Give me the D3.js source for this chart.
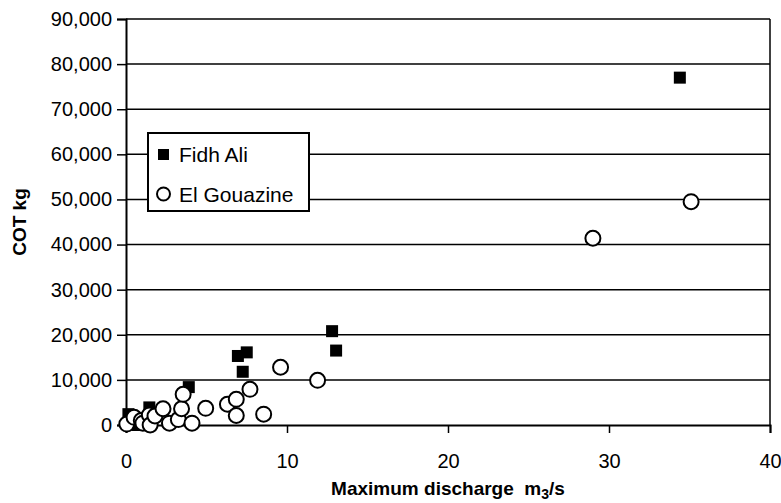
<!DOCTYPE html>
<html>
<head>
<meta charset="utf-8">
<script src="https://cdn.jsdelivr.net/npm/d3@7"></script>
<style>
  body { margin: 0; background: #fff; }
  text { font-family: "Liberation Sans", Arial, sans-serif; }
</style>
</head>
<body>
<script>
// dimensions
const width = 781;
const height = 503;
const margin = { top: 19, right: 11, bottom: 78, left: 126 };

// data : [discharge m3/s, COT kg]
const fidhAli = [
  [0.15, 2400], [0.4, 1200], [0.7, 0], [1.0, 300], [1.45, 3900],
  [3.9, 8400], [6.95, 15300], [7.5, 16100], [7.25, 11800],
  [12.8, 20800], [13.05, 16500], [34.4, 77000]
];
const elGouazine = [
  [0.05, 200], [0.5, 1700], [0.95, 1000], [1.05, 400], [1.45, 2200], [1.5, 0],
  [1.8, 2000], [2.3, 3600], [2.7, 400], [3.25, 1200], [3.45, 3600], [3.55, 6800],
  [4.1, 400], [4.95, 3700], [6.3, 4600], [6.85, 5700], [6.85, 2100], [7.7, 7900],
  [8.55, 2400], [9.6, 12800], [11.9, 9900], [29.0, 41400], [35.1, 49500]
];
const seriesNames = ["Fidh Ali", "El Gouazine"];
const xTicks = [0, 10, 20, 30, 40];
const yTicks = [0, 10000, 20000, 30000, 40000, 50000, 60000, 70000, 80000, 90000];

const svg = d3.select("body").append("svg")
  .attr("width", width)
  .attr("height", height);

const x = d3.scaleLinear().domain([0, 40]).range([margin.left, width - margin.right]);
const y = d3.scaleLinear().domain([0, 90000]).range([height - margin.bottom, margin.top]);

// grid lines
svg.append("g")
  .selectAll("line")
  .data(yTicks.slice(1))
  .join("line")
  .attr("x1", x(0)).attr("x2", x(40))
  .attr("y1", d => y(d)).attr("y2", d => y(d))
  .attr("stroke", "#000")
  .attr("stroke-width", 1.5);

// right border
svg.append("line")
  .attr("x1", x(40)).attr("x2", x(40))
  .attr("y1", y(90000)).attr("y2", y(0))
  .attr("stroke", "#000").attr("stroke-width", 1.5);

// axes
const yAxis = svg.append("g")
  .attr("transform", `translate(${x(0)},0)`)
  .call(d3.axisLeft(y).tickValues(yTicks).tickFormat(d3.format(",")).tickSize(9).tickPadding(5));

const xAxis = svg.append("g")
  .attr("transform", `translate(0,${y(0)})`)
  .call(d3.axisBottom(x).tickValues(xTicks).tickSize(8).tickPadding(21));

[yAxis, xAxis].forEach(a => {
  a.select(".domain").attr("stroke", "#000").attr("stroke-width", 2);
  a.selectAll(".tick line").attr("stroke", "#000").attr("stroke-width", 1.5);
  a.selectAll(".tick text").attr("fill", "#000").style("font-size", "20px")
    .style("font-family", "'Liberation Sans', Arial, sans-serif");
});

// axis titles
svg.append("text")
  .attr("transform", `translate(26,${(y(0) + y(90000)) / 2}) rotate(-90)`)
  .attr("text-anchor", "middle")
  .style("font-size", "19px")
  .style("font-weight", "bold")
  .text("COT kg");

const xTitle = svg.append("text")
  .attr("x", (x(0) + x(40)) / 2)
  .attr("y", 495)
  .attr("text-anchor", "middle")
  .style("font-size", "19px")
  .style("font-weight", "bold")
  .style("white-space", "pre");
xTitle.append("tspan").text("Maximum discharge  m");
xTitle.append("tspan").attr("dy", 4).style("font-size", "14px").text("3");
xTitle.append("tspan").attr("dy", -4).text("/s");

// points : squares first, circles on top
const sq = 12;
svg.append("g")
  .selectAll("rect")
  .data(fidhAli)
  .join("rect")
  .attr("x", d => x(d[0]) - sq / 2)
  .attr("y", d => y(d[1]) - sq / 2)
  .attr("width", sq)
  .attr("height", sq)
  .attr("fill", "#000");

svg.append("g")
  .selectAll("circle")
  .data(elGouazine)
  .join("circle")
  .attr("cx", d => x(d[0]))
  .attr("cy", d => y(d[1]))
  .attr("r", 7.5)
  .attr("fill", "#fff")
  .attr("stroke", "#000")
  .attr("stroke-width", 2);

// legend
const legend = svg.append("g").attr("transform", "translate(148,133)");
legend.append("rect")
  .attr("width", 161).attr("height", 78)
  .attr("fill", "#fff").attr("stroke", "#000").attr("stroke-width", 2);
legend.append("rect")
  .attr("x", 10).attr("y", 16).attr("width", 11).attr("height", 11).attr("fill", "#000");
legend.append("circle")
  .attr("cx", 15.5).attr("cy", 61).attr("r", 6.5)
  .attr("fill", "#fff").attr("stroke", "#000").attr("stroke-width", 2);
legend.selectAll("text.lg")
  .data(seriesNames)
  .join("text")
  .attr("class", "lg")
  .attr("x", 31)
  .attr("y", (d, i) => 29 + i * 40)
  .style("font-size", "21px")
  .text(d => d);
</script>
</body>
</html>
